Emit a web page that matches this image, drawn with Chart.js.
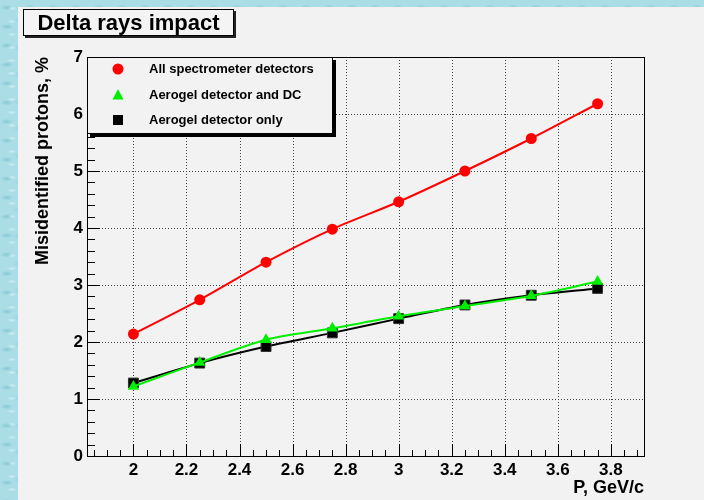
<!DOCTYPE html>
<html>
<head>
<meta charset="utf-8">
<script src="https://cdn.jsdelivr.net/npm/chart.js@4.4.1/dist/chart.umd.min.js"></script>
<style>
html, body { margin: 0; padding: 0; }
body {
  width: 704px; height: 500px; overflow: hidden; position: relative;
  background:
    radial-gradient(ellipse 9px 4px at 30% 40%, rgba(70,160,185,0.35), transparent 70%) 0 0 / 23px 19px,
    radial-gradient(ellipse 7px 3px at 70% 65%, rgba(225,250,252,0.6), transparent 70%) 0 0 / 17px 13px,
    radial-gradient(ellipse 12px 5px at 50% 50%, rgba(120,195,210,0.35), transparent 70%) 5px 7px / 31px 27px,
    #aadde6;
}
#panel { position: absolute; left: 18px; top: 7px; right: 0; bottom: 0; background: #f2f2f2; }
#c { position: absolute; left: 0; top: 0; }
</style>
</head>
<body>
<div id="panel"></div>
<canvas id="c" width="704" height="500"></canvas>
<script>
// Momentum points, GeV/c
const momentum = [2.0, 2.25, 2.5, 2.75, 3.0, 3.25, 3.5, 3.75];
// Misidentified protons, %
const allDetectors = [2.14, 2.74, 3.40, 3.98, 4.46, 5.00, 5.57, 6.18];
const aerogelAndDC = [1.22, 1.64, 2.04, 2.24, 2.45, 2.63, 2.81, 3.06];
const aerogelOnly  = [1.28, 1.63, 1.92, 2.16, 2.41, 2.65, 2.82, 2.94];

const seriesLabels = ['All spectrometer detectors', 'Aerogel detector and DC', 'Aerogel detector only'];
const xTicks = [2, 2.2, 2.4, 2.6, 2.8, 3, 3.2, 3.4, 3.6, 3.8];
const yTicks = [0, 1, 2, 3, 4, 5, 6, 7];
const chartTitle = 'Delta rays impact';
const xTitle = 'P, GeV/c';
const yTitle = 'Misidentified protons, %';

const FONT = '"Liberation Sans", Arial, Helvetica, sans-serif';
const PANEL = '#f2f2f2';

function pts(ys) { return momentum.map((x, i) => ({ x: x, y: ys[i] })); }

// Grid, ticks and frame in ROOT style
const framePlugin = {
  id: 'frame',
  beforeDatasetsDraw(chart) {
    const { ctx, chartArea: a, scales: { x, y } } = chart;
    ctx.save();
    ctx.lineWidth = 1;
    ctx.strokeStyle = '#444';
    ctx.setLineDash([1, 2]);
    ctx.beginPath();
    xTicks.forEach(v => {
      const px = Math.round(x.getPixelForValue(v)) + 0.5;
      ctx.moveTo(px, a.top); ctx.lineTo(px, a.bottom);
    });
    yTicks.forEach(v => {
      const py = Math.round(y.getPixelForValue(v)) + 0.5;
      if (py <= a.top + 1 || py >= a.bottom - 1) return;
      ctx.moveTo(a.left, py); ctx.lineTo(a.right, py);
    });
    ctx.stroke();
    ctx.setLineDash([]);

    // tick marks
    ctx.strokeStyle = '#000';
    ctx.beginPath();
    for (let k = 37; k <= 78; k++) {
      const v = k * 0.05;
      const major = k % 4 === 0;
      const px = Math.round(x.getPixelForValue(v)) + 0.5;
      const len = major ? 12 : 6;
      ctx.moveTo(px, a.bottom); ctx.lineTo(px, a.bottom - len);
    }
    for (let k = 0; k <= 35; k++) {
      const v = k * 0.2;
      const major = k % 5 === 0;
      const py = Math.round(y.getPixelForValue(v)) + 0.5;
      const len = major ? 13 : 8;
      ctx.moveTo(a.left, py); ctx.lineTo(a.left + len, py);
    }
    ctx.stroke();

    // frame
    ctx.strokeRect(Math.round(a.left) + 0.5, Math.round(a.top) + 0.5,
      Math.round(a.right - a.left), Math.round(a.bottom - a.top));
    ctx.restore();
  },
  afterDraw(chart) {
    const { ctx, chartArea: a } = chart;
    ctx.save();
    // axis titles
    ctx.fillStyle = '#000';
    ctx.font = 'bold 18px ' + FONT;
    ctx.textAlign = 'right';
    ctx.textBaseline = 'middle';
    ctx.fillText(xTitle, a.right, 488);
    ctx.translate(43, a.top);
    ctx.rotate(-Math.PI / 2);
    ctx.textAlign = 'right';
    ctx.fillText(yTitle, 0, 0);
    ctx.restore();

    // title box
    ctx.save();
    const bx = 23, by = 9, bw = 211, bh = 27;
    ctx.fillStyle = '#222';
    ctx.fillRect(bx + 2, by + 2, bw, bh);
    ctx.fillStyle = '#f4f4f4';
    ctx.fillRect(bx, by, bw, bh);
    ctx.strokeStyle = '#000';
    ctx.lineWidth = 1;
    ctx.strokeRect(bx + 0.5, by + 0.5, bw - 1, bh - 1);
    ctx.fillStyle = '#000';
    ctx.font = 'bold 22px ' + FONT;
    ctx.textAlign = 'center';
    ctx.textBaseline = 'middle';
    ctx.fillText(chartTitle, bx + bw / 2, by + bh / 2 + 1);
    ctx.restore();
  }
};

// Legend box inside the frame
function drawMarker(ctx, style, cx, cy, color) {
  ctx.fillStyle = color;
  ctx.beginPath();
  if (style === 'circle') {
    ctx.arc(cx, cy, 5.5, 0, Math.PI * 2);
  } else if (style === 'triangle') {
    ctx.moveTo(cx, cy - 6); ctx.lineTo(cx + 5.5, cy + 4.5); ctx.lineTo(cx - 5.5, cy + 4.5); ctx.closePath();
  } else {
    ctx.rect(cx - 5, cy - 5, 10, 10);
  }
  ctx.fill();
}

const legendPlugin = {
  id: 'boxLegend',
  afterDatasetsDraw(chart) {
    const { ctx, chartArea: a } = chart;
    const lx = Math.round(a.left), ly = Math.round(a.top), lw = 246, lh = 77;
    ctx.save();
    ctx.fillStyle = '#000';
    ctx.fillRect(lx + 3, ly + 3, lw, lh);
    ctx.fillStyle = PANEL;
    ctx.fillRect(lx, ly, lw, lh);
    ctx.strokeStyle = '#000';
    ctx.lineWidth = 1;
    ctx.strokeRect(lx + 0.5, ly + 0.5, lw - 1, lh - 1);
    ctx.font = 'bold 13px ' + FONT;
    ctx.textAlign = 'left';
    ctx.textBaseline = 'middle';
    const rows = [12, 38, 63];
    chart.data.datasets.forEach((ds, i) => {
      const cy = ly + rows[i];
      drawMarker(ctx, ds.pointStyle, lx + 31, cy, ds.pointBackgroundColor);
      ctx.fillStyle = '#000';
      ctx.fillText(ds.label, lx + 62, cy);
    });
    ctx.restore();
  }
};

new Chart(document.getElementById('c'), {
  type: 'scatter',
  data: {
    datasets: [
      { label: seriesLabels[0], data: pts(allDetectors), showLine: true, tension: 0.3,
        borderColor: '#ff0000', borderWidth: 2, pointStyle: 'circle', pointRadius: 5.5,
        pointBackgroundColor: '#ff0000', pointBorderColor: '#ff0000', pointBorderWidth: 0 },
      { label: seriesLabels[1], data: pts(aerogelAndDC), showLine: true, tension: 0.3,
        borderColor: '#00ee00', borderWidth: 2, pointStyle: 'triangle', pointRadius: 6.5,
        pointBackgroundColor: '#00ee00', pointBorderColor: '#00ee00', pointBorderWidth: 0 },
      { label: seriesLabels[2], data: pts(aerogelOnly), showLine: true, tension: 0.3,
        borderColor: '#000000', borderWidth: 2, pointStyle: 'rect', pointRadius: 7,
        pointBackgroundColor: '#000000', pointBorderColor: '#333', pointBorderWidth: 1 }
    ]
  },
  options: {
    responsive: false,
    animation: false,
    devicePixelRatio: 1,
    layout: { padding: { left: 0, top: 57, right: 60, bottom: 0 } },
    plugins: { legend: { display: false }, tooltip: { enabled: false } },
    scales: {
      x: {
        type: 'linear', min: 1.825, max: 3.925,
        afterBuildTicks: s => { s.ticks = xTicks.map(v => ({ value: v })); },
        afterFit: s => { s.height = 44; },
        grid: { display: false, drawTicks: false },
        border: { display: false },
        ticks: { color: '#000', padding: 4, maxRotation: 0, autoSkip: false,
          font: { family: FONT, size: 17, weight: 'bold' },
          callback: v => String(Math.round(v * 10) / 10) }
      },
      y: {
        type: 'linear', min: 0, max: 7,
        afterBuildTicks: s => { s.ticks = yTicks.map(v => ({ value: v })); },
        afterFit: s => { s.width = 87; },
        grid: { display: false, drawTicks: false },
        border: { display: false },
        ticks: { color: '#000', padding: 4, autoSkip: false,
          font: { family: FONT, size: 17, weight: 'bold' },
          callback: v => String(v) }
      }
    }
  },
  plugins: [framePlugin, legendPlugin]
});
</script>
</body>
</html>
